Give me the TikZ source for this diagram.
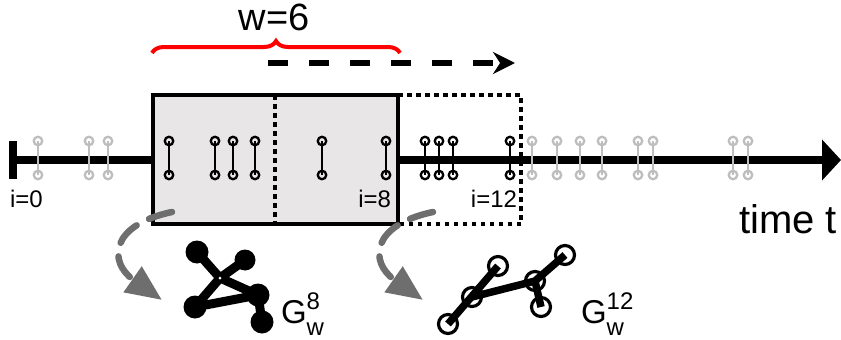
\documentclass[tikz,border=0pt]{standalone}
\usepackage{fontspec}
\setmainfont{Liberation Sans}
\usetikzlibrary{arrows.meta,decorations.pathreplacing}
\definecolor{boxgray}{RGB}{232,230,230}
\definecolor{hopgray}{RGB}{110,110,110}
\definecolor{oldedge}{RGB}{190,190,190}

\begin{document}
\begin{tikzpicture}[x=1pt,y=-1pt,
  every node/.style={inner sep=0pt, outer sep=0pt},
  dot/.style={circle, draw, line width=2.3pt, minimum size=8.5pt},
  fullnode/.style={circle, fill=black, minimum size=23pt},
  opennode/.style={circle, draw, line width=3.2pt, minimum size=19pt},
  hop/.style={hopgray, line width=6.5pt, line cap=round, dash pattern=on 24pt off 14pt, -{Triangle[length=36pt,width=30pt]}},
  small/.style={font=\fontsize{24}{24}\selectfont}]
\useasboundingbox (0,0) rectangle (841,340);

% time axis
\coordinate (t0) at (9,160);
\coordinate (tend) at (841,160);
\draw[line width=8.5pt, -{Triangle[length=19pt,width=40pt]}] (t0) -- (tend);
\draw[line width=8.5pt] (13,141) -- (13,179);

% windows
\draw[line width=4.5pt, dash pattern=on 4.5pt off 4.5pt] (398,95) -- (521,95) -- (521,224) -- (398,224);
\draw[line width=4.5pt, fill=boxgray] (153,95) rectangle (398,224);
\draw[line width=4.5pt, dash pattern=on 4.5pt off 4.5pt] (275,95) -- (275,224);

% edges on the time axis
\foreach \x in {38,89,108,532,557,580,602,638,653,733,748} {
  \node[dot, draw=oldedge] (u\x) at (\x,141) {};
  \node[dot, draw=oldedge] (v\x) at (\x,175) {};
  \draw[oldedge, line width=2.5pt] (u\x.center) -- (v\x.center);
}
\foreach \x in {169,215,233,255,322,386,425,439,453,510} {
  \node[dot] (u\x) at (\x,141) {};
  \node[dot] (v\x) at (\x,175) {};
  \draw[line width=2.5pt] (u\x.center) -- (v\x.center);
}

\node[small, anchor=base west] (i0) at (10,207) {i=0};
\node[small, anchor=base east] (i8) at (391,207) {i=8};
\node[small, anchor=base east] (i12) at (517,207) {i=12};
\node[font=\fontsize{40}{40}\selectfont, anchor=base east] (time) at (837,233) {time t};

% window size and sliding
\coordinate (wl) at (152,53);
\coordinate (wr) at (400,53);
\draw[red, line width=4pt, decorate, decoration={brace, amplitude=12pt}] (wl) -- (wr);
\node[font=\fontsize{38}{38}\selectfont, anchor=base] (wlabel) at (274,30) {w=6};
\coordinate (sa) at (268,63);
\coordinate (sb) at (515,63);
\draw[line width=6pt, dash pattern=on 20pt off 21pt, -{Stealth[length=22pt,width=22pt]}] (sa) -- (sb);

% graph G_w^8
\node[fullnode] (a) at (197,252) {};
\node[fullnode, minimum size=21pt] (b) at (245,260) {};
\coordinate (j) at (220,278);
\node[fullnode] (c) at (258,295) {};
\node[fullnode] (d) at (195,307) {};
\node[fullnode] (e) at (262,322) {};
\draw[line width=9pt] (a.center) -- (j) (b.center) -- (j) (j) -- (d.center) (j) -- (c.center)
  (d.center) -- (c.center) (c.center) -- (e.center);
\node[circle, fill=white, minimum size=3pt] (jdot) at (j) {};
\node[font=\fontsize{33}{33}\selectfont, anchor=base west] (g8) at (281,323)
  {G\rlap{\raisebox{14pt}{\fontsize{24}{24}\selectfont 8}}\raisebox{-12pt}{\fontsize{24}{24}\selectfont w}};

% graph G_w^12
\node[opennode] (p1) at (448,324) {};
\node[opennode] (p2) at (472,297) {};
\node[opennode] (p3) at (498,266) {};
\node[opennode] (p4) at (535,281) {};
\node[opennode] (p5) at (541,307) {};
\node[opennode] (p6) at (565,255) {};
\draw[line width=7.5pt] (p1.center) -- (p3.center) (p2.center) -- (p4.center)
  (p4.center) -- (p6.center) (p4.center) -- (p5.center);
\node[font=\fontsize{33}{33}\selectfont, anchor=base west] (g12) at (581,323)
  {G\rlap{\raisebox{14pt}{\fontsize{24}{24}\selectfont 12}}\raisebox{-12pt}{\fontsize{24}{24}\selectfont w}};

% snapshots
\coordinate (s1) at (172,212);
\coordinate (h1) at (162,300);
\draw[hop] (s1) .. controls (110,225) and (108,262) .. (h1);
\coordinate (s2) at (433,212);
\coordinate (h2) at (423,300);
\draw[hop] (s2) .. controls (371,225) and (369,262) .. (h2);
\end{tikzpicture}
\end{document}
